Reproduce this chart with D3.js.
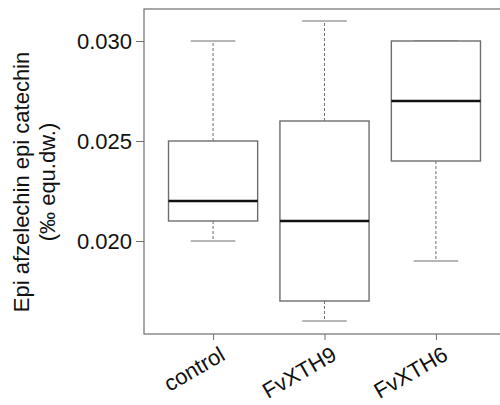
<!DOCTYPE html>
<html>
<head>
<meta charset="utf-8">
<script src="https://cdn.jsdelivr.net/npm/d3@7"></script>
<style>
  body { margin: 0; background: #fff; }
  text { font-family: "Liberation Sans", Arial, sans-serif; fill: #111; }
</style>
</head>
<body>
<div id="chart"></div>
<script>
// data
var groups = ["control", "FvXTH9", "FvXTH6"];
var whiskerLow = [0.020, 0.016, 0.019];
var q1 = [0.021, 0.017, 0.024];
var median = [0.022, 0.021, 0.027];
var q3 = [0.025, 0.026, 0.030];
var whiskerHigh = [0.030, 0.031, 0.030];
var yTicks = [0.020, 0.025, 0.030];

var width = 500, height = 405;
var plot = { left: 144, top: 9, bottom: 334, right: 505 };

var svg = d3.select("#chart")
    .append("svg")
    .attr("width", width)
    .attr("height", height);

var x = d3.scaleLinear().domain([0.38, 3.62]).range([plot.left, plot.right]);
var y = d3.scaleLinear().domain([0.01535, 0.0316]).range([plot.bottom, plot.top]);

var grey = "#6e6e6e";

// frame
svg.append("rect")
    .attr("x", plot.left)
    .attr("y", plot.top)
    .attr("width", plot.right - plot.left)
    .attr("height", plot.bottom - plot.top)
    .attr("fill", "none")
    .attr("stroke", grey)
    .attr("stroke-width", 1.2);

// y axis
var yAxis = d3.axisLeft(y).tickValues(yTicks).tickFormat(d3.format(".3f")).tickSize(8).tickPadding(4);
var gy = svg.append("g")
    .attr("transform", "translate(" + plot.left + ",0)")
    .call(yAxis);
gy.select(".domain").remove();
gy.selectAll(".tick line").attr("stroke", grey);
gy.selectAll(".tick text").style("font-size", "22px").attr("fill", "#111");

// x axis
var xAxis = d3.axisBottom(x).tickValues([1, 2, 3]).tickFormat("").tickSize(6);
var gx = svg.append("g")
    .attr("transform", "translate(0," + plot.bottom + ")")
    .call(xAxis);
gx.select(".domain").remove();
gx.selectAll(".tick line").attr("stroke", grey);

svg.selectAll(".xlab")
    .data(groups)
    .join("text")
    .attr("class", "xlab")
    .attr("transform", function (d, i) {
        return "translate(" + (x(i + 1) + 13.5) + "," + (plot.bottom + 25) + ") rotate(-30)";
    })
    .attr("text-anchor", "end")
    .style("font-size", "22px")
    .text(function (d) { return d; });

// y title
var yt = svg.append("text")
    .attr("transform", "translate(29,182) rotate(-90)")
    .attr("text-anchor", "middle")
    .style("font-size", "22px");
yt.append("tspan").attr("x", 0).attr("dy", 0).text("Epi afzelechin epi catechin");
yt.append("tspan").attr("x", 0).attr("dy", 26).text("(‰ equ.dw.)");

// boxes
var bw = 0.4, cw = 0.2;
var boxes = svg.selectAll(".box")
    .data(groups)
    .join("g")
    .attr("class", "box");

boxes.append("line")
    .attr("x1", function (d, i) { return x(i + 1); })
    .attr("x2", function (d, i) { return x(i + 1); })
    .attr("y1", function (d, i) { return y(q3[i]); })
    .attr("y2", function (d, i) { return y(whiskerHigh[i]); })
    .attr("stroke", grey).attr("stroke-dasharray", "3,2");
boxes.append("line")
    .attr("x1", function (d, i) { return x(i + 1); })
    .attr("x2", function (d, i) { return x(i + 1); })
    .attr("y1", function (d, i) { return y(q1[i]); })
    .attr("y2", function (d, i) { return y(whiskerLow[i]); })
    .attr("stroke", grey).attr("stroke-dasharray", "3,2");
boxes.append("line")
    .attr("x1", function (d, i) { return x(i + 1 - cw); })
    .attr("x2", function (d, i) { return x(i + 1 + cw); })
    .attr("y1", function (d, i) { return y(whiskerHigh[i]); })
    .attr("y2", function (d, i) { return y(whiskerHigh[i]); })
    .attr("stroke", grey).attr("stroke-width", 1.2);
boxes.append("line")
    .attr("x1", function (d, i) { return x(i + 1 - cw); })
    .attr("x2", function (d, i) { return x(i + 1 + cw); })
    .attr("y1", function (d, i) { return y(whiskerLow[i]); })
    .attr("y2", function (d, i) { return y(whiskerLow[i]); })
    .attr("stroke", grey).attr("stroke-width", 1.2);
boxes.append("rect")
    .attr("x", function (d, i) { return x(i + 1 - bw); })
    .attr("width", function (d, i) { return x(i + 1 + bw) - x(i + 1 - bw); })
    .attr("y", function (d, i) { return y(q3[i]); })
    .attr("height", function (d, i) { return y(q1[i]) - y(q3[i]); })
    .attr("fill", "#fff")
    .attr("stroke", grey)
    .attr("stroke-width", 1.4);
boxes.append("line")
    .attr("x1", function (d, i) { return x(i + 1 - bw); })
    .attr("x2", function (d, i) { return x(i + 1 + bw); })
    .attr("y1", function (d, i) { return y(median[i]); })
    .attr("y2", function (d, i) { return y(median[i]); })
    .attr("stroke", "#111").attr("stroke-width", 2.6);
</script>
</body>
</html>
